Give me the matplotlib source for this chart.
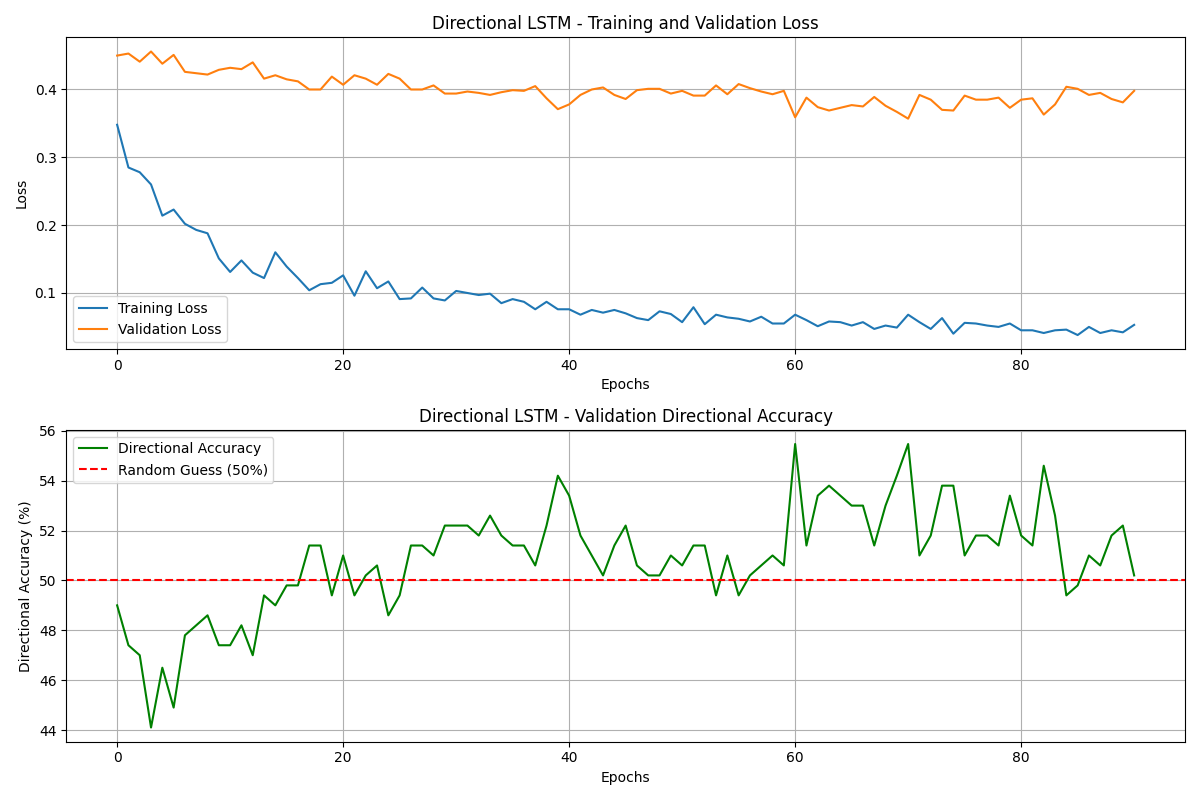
import numpy as np
import matplotlib
matplotlib.use("Agg")
import matplotlib.pyplot as plt

# --- values ---
train_loss = [
    0.348, 0.285, 0.278, 0.260, 0.214, 0.223, 0.202, 0.193, 0.188, 0.151,
    0.131, 0.148, 0.130, 0.122, 0.160, 0.139, 0.122, 0.104, 0.113, 0.115,
    0.126, 0.096, 0.132, 0.107, 0.117, 0.091, 0.092, 0.108, 0.092, 0.089,
    0.103, 0.100, 0.097, 0.099, 0.085, 0.091, 0.087, 0.076, 0.087, 0.076,
    0.076, 0.068, 0.075, 0.071, 0.075, 0.070, 0.063, 0.060, 0.073, 0.069,
    0.057, 0.079, 0.054, 0.068, 0.064, 0.062, 0.058, 0.065, 0.055, 0.055,
    0.068, 0.060, 0.051, 0.058, 0.057, 0.052, 0.057, 0.047, 0.052, 0.049,
    0.068, 0.057, 0.047, 0.063, 0.040, 0.056, 0.055, 0.052, 0.050, 0.055,
    0.045, 0.045, 0.041, 0.045, 0.046, 0.038, 0.050, 0.041, 0.045, 0.042,
    0.053,
]
val_loss = [
    0.450, 0.453, 0.441, 0.456, 0.438, 0.451, 0.426, 0.424, 0.422, 0.429,
    0.432, 0.430, 0.440, 0.416, 0.421, 0.415, 0.412, 0.400, 0.400, 0.419,
    0.407, 0.421, 0.416, 0.407, 0.423, 0.416, 0.400, 0.400, 0.406, 0.394,
    0.394, 0.397, 0.395, 0.392, 0.396, 0.399, 0.398, 0.405, 0.387, 0.371,
    0.378, 0.392, 0.400, 0.403, 0.392, 0.386, 0.399, 0.401, 0.401, 0.394,
    0.398, 0.391, 0.391, 0.406, 0.393, 0.408, 0.402, 0.397, 0.393, 0.398,
    0.359, 0.388, 0.374, 0.369, 0.373, 0.377, 0.375, 0.389, 0.376, 0.367,
    0.357, 0.392, 0.385, 0.370, 0.369, 0.391, 0.385, 0.385, 0.388, 0.373,
    0.385, 0.387, 0.363, 0.378, 0.404, 0.401, 0.392, 0.395, 0.386, 0.381,
    0.398,
]
dir_acc = [
    49.0, 47.4, 47.0, 44.1, 46.5, 44.9, 47.8, 48.2, 48.6, 47.4,
    47.4, 48.2, 47.0, 49.4, 49.0, 49.8, 49.8, 51.4, 51.4, 49.4,
    51.0, 49.4, 50.2, 50.6, 48.6, 49.4, 51.4, 51.4, 51.0, 52.2,
    52.2, 52.2, 51.8, 52.6, 51.8, 51.4, 51.4, 50.6, 52.2, 54.2,
    53.4, 51.8, 51.0, 50.2, 51.4, 52.2, 50.6, 50.2, 50.2, 51.0,
    50.6, 51.4, 51.4, 49.4, 51.0, 49.4, 50.2, 50.6, 51.0, 50.6,
    55.47, 51.4, 53.4, 53.8, 53.4, 53.0, 53.0, 51.4, 53.0, 54.2,
    55.47, 51.0, 51.8, 53.8, 53.8, 51.0, 51.8, 51.8, 51.4, 53.4,
    51.8, 51.4, 54.6, 52.6, 49.4, 49.8, 51.0, 50.6, 51.8, 52.2,
    50.2,
]
epochs = np.arange(len(train_loss))

fig, (ax1, ax2) = plt.subplots(2, 1, figsize=(12, 8), dpi=100)

# --- loss ---
ax1.plot(epochs, train_loss, label='Training Loss')
ax1.plot(epochs, val_loss, label='Validation Loss')
ax1.set_title('Directional LSTM - Training and Validation Loss')
ax1.set_xlabel('Epochs')
ax1.set_ylabel('Loss')
ax1.legend(loc='lower left')
ax1.grid(True)

# --- directional accuracy ---
ax2.plot(epochs, dir_acc, color='green', label='Directional Accuracy')
ax2.axhline(50, color='r', linestyle='--', label='Random Guess (50%)')
ax2.set_title('Directional LSTM - Validation Directional Accuracy')
ax2.set_xlabel('Epochs')
ax2.set_ylabel('Directional Accuracy (%)')
ax2.legend(loc='upper left')
ax2.grid(True)

plt.tight_layout()
plt.savefig('out.png')
